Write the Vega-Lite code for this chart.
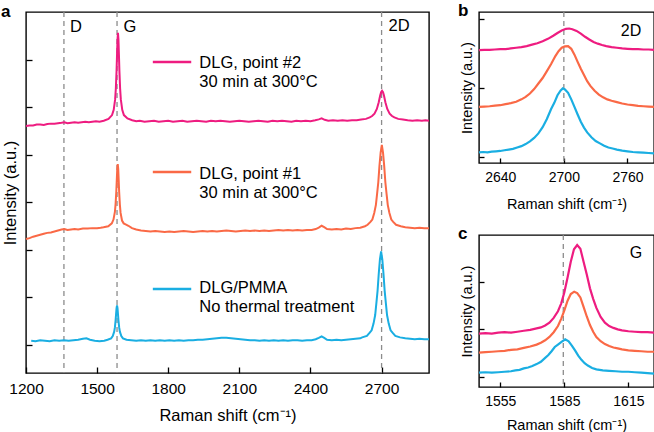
{
"$schema": "https://vega.github.io/schema/vega-lite/v6.json",
"padding": {"left": 0, "top": 1, "right": 1, "bottom": 0},
"config": {
 "font": "Liberation Sans",
 "view": {"stroke": "#000", "strokeWidth": 1.4},
 "axis": {"domain": false, "grid": false, "tickColor": "#000", "tickWidth": 1.3, "labelColor": "#000", "titleColor": "#000", "titleFontWeight": "normal", "labelFlush": false, "labelOverlap": false, "labelFont": "Liberation Sans", "titleFont": "Liberation Sans"},
 "title": {"font": "Liberation Sans", "fontWeight": "bold", "color": "#000", "anchor": "start", "frame": "group", "baseline": "alphabetic", "fontSize": 17}
},
"datasets": {
 "a": [
  {"x":1200,"y":4.61,"s":"p2"},{"x":1215,"y":4.62,"s":"p2"},{"x":1230,"y":4.62,"s":"p2"},{"x":1245,"y":4.64,"s":"p2"},{"x":1260,"y":4.64,"s":"p2"},{"x":1275,"y":4.63,"s":"p2"},{"x":1290,"y":4.65,"s":"p2"},{"x":1305,"y":4.66,"s":"p2"},{"x":1320,"y":4.66,"s":"p2"},{"x":1335,"y":4.67,"s":"p2"},{"x":1350,"y":4.68,"s":"p2"},{"x":1362,"y":4.69,"s":"p2"},{"x":1375,"y":4.67,"s":"p2"},{"x":1390,"y":4.68,"s":"p2"},{"x":1405,"y":4.69,"s":"p2"},{"x":1420,"y":4.68,"s":"p2"},{"x":1435,"y":4.69,"s":"p2"},{"x":1450,"y":4.70,"s":"p2"},{"x":1465,"y":4.69,"s":"p2"},{"x":1480,"y":4.70,"s":"p2"},{"x":1495,"y":4.71,"s":"p2"},{"x":1510,"y":4.70,"s":"p2"},{"x":1528,"y":4.72,"s":"p2"},{"x":1548,"y":4.76,"s":"p2"},{"x":1563,"y":4.84,"s":"p2"},{"x":1570,"y":4.95,"s":"p2"},{"x":1576,"y":5.17,"s":"p2"},{"x":1579,"y":5.40,"s":"p2"},{"x":1582,"y":5.77,"s":"p2"},{"x":1584,"y":6.11,"s":"p2"},{"x":1586,"y":6.43,"s":"p2"},{"x":1588,"y":6.57,"s":"p2"},{"x":1590,"y":6.43,"s":"p2"},{"x":1592,"y":6.11,"s":"p2"},{"x":1594,"y":5.77,"s":"p2"},{"x":1597,"y":5.40,"s":"p2"},{"x":1600,"y":5.17,"s":"p2"},{"x":1606,"y":4.95,"s":"p2"},{"x":1613,"y":4.84,"s":"p2"},{"x":1628,"y":4.77,"s":"p2"},{"x":1648,"y":4.73,"s":"p2"},{"x":1665,"y":4.71,"s":"p2"},{"x":1680,"y":4.72,"s":"p2"},{"x":1700,"y":4.70,"s":"p2"},{"x":1720,"y":4.71,"s":"p2"},{"x":1740,"y":4.72,"s":"p2"},{"x":1760,"y":4.70,"s":"p2"},{"x":1780,"y":4.71,"s":"p2"},{"x":1800,"y":4.72,"s":"p2"},{"x":1820,"y":4.70,"s":"p2"},{"x":1840,"y":4.71,"s":"p2"},{"x":1860,"y":4.72,"s":"p2"},{"x":1880,"y":4.70,"s":"p2"},{"x":1900,"y":4.71,"s":"p2"},{"x":1920,"y":4.72,"s":"p2"},{"x":1940,"y":4.71,"s":"p2"},{"x":1960,"y":4.70,"s":"p2"},{"x":1980,"y":4.72,"s":"p2"},{"x":2000,"y":4.71,"s":"p2"},{"x":2020,"y":4.72,"s":"p2"},{"x":2040,"y":4.71,"s":"p2"},{"x":2060,"y":4.70,"s":"p2"},{"x":2080,"y":4.71,"s":"p2"},{"x":2100,"y":4.72,"s":"p2"},{"x":2120,"y":4.71,"s":"p2"},{"x":2140,"y":4.70,"s":"p2"},{"x":2160,"y":4.71,"s":"p2"},{"x":2180,"y":4.72,"s":"p2"},{"x":2200,"y":4.71,"s":"p2"},{"x":2220,"y":4.70,"s":"p2"},{"x":2240,"y":4.72,"s":"p2"},{"x":2260,"y":4.71,"s":"p2"},{"x":2280,"y":4.72,"s":"p2"},{"x":2300,"y":4.71,"s":"p2"},{"x":2320,"y":4.70,"s":"p2"},{"x":2340,"y":4.72,"s":"p2"},{"x":2360,"y":4.71,"s":"p2"},{"x":2380,"y":4.72,"s":"p2"},{"x":2400,"y":4.71,"s":"p2"},{"x":2420,"y":4.73,"s":"p2"},{"x":2435,"y":4.75,"s":"p2"},{"x":2447,"y":4.77,"s":"p2"},{"x":2460,"y":4.74,"s":"p2"},{"x":2475,"y":4.72,"s":"p2"},{"x":2495,"y":4.73,"s":"p2"},{"x":2515,"y":4.72,"s":"p2"},{"x":2535,"y":4.73,"s":"p2"},{"x":2555,"y":4.72,"s":"p2"},{"x":2575,"y":4.73,"s":"p2"},{"x":2595,"y":4.73,"s":"p2"},{"x":2614,"y":4.745,"s":"p2"},{"x":2634,"y":4.76,"s":"p2"},{"x":2650,"y":4.79,"s":"p2"},{"x":2660,"y":4.82,"s":"p2"},{"x":2670,"y":4.87,"s":"p2"},{"x":2680,"y":4.97,"s":"p2"},{"x":2688,"y":5.11,"s":"p2"},{"x":2694,"y":5.25,"s":"p2"},{"x":2698,"y":5.32,"s":"p2"},{"x":2702,"y":5.35,"s":"p2"},{"x":2706,"y":5.32,"s":"p2"},{"x":2710,"y":5.25,"s":"p2"},{"x":2716,"y":5.11,"s":"p2"},{"x":2724,"y":4.97,"s":"p2"},{"x":2734,"y":4.87,"s":"p2"},{"x":2744,"y":4.82,"s":"p2"},{"x":2754,"y":4.79,"s":"p2"},{"x":2770,"y":4.76,"s":"p2"},{"x":2790,"y":4.745,"s":"p2"},{"x":2810,"y":4.73,"s":"p2"},{"x":2830,"y":4.72,"s":"p2"},{"x":2850,"y":4.73,"s":"p2"},{"x":2870,"y":4.72,"s":"p2"},{"x":2885,"y":4.73,"s":"p2"},{"x":2900,"y":4.72,"s":"p2"},

  {"x":1200,"y":2.23,"s":"p1"},{"x":1215,"y":2.25,"s":"p1"},{"x":1230,"y":2.28,"s":"p1"},{"x":1245,"y":2.30,"s":"p1"},{"x":1260,"y":2.32,"s":"p1"},{"x":1275,"y":2.34,"s":"p1"},{"x":1290,"y":2.36,"s":"p1"},{"x":1305,"y":2.37,"s":"p1"},{"x":1320,"y":2.39,"s":"p1"},{"x":1335,"y":2.41,"s":"p1"},{"x":1350,"y":2.43,"s":"p1"},{"x":1362,"y":2.44,"s":"p1"},{"x":1375,"y":2.42,"s":"p1"},{"x":1390,"y":2.43,"s":"p1"},{"x":1405,"y":2.44,"s":"p1"},{"x":1420,"y":2.43,"s":"p1"},{"x":1440,"y":2.45,"s":"p1"},{"x":1460,"y":2.45,"s":"p1"},{"x":1480,"y":2.46,"s":"p1"},{"x":1500,"y":2.46,"s":"p1"},{"x":1515,"y":2.47,"s":"p1"},{"x":1527,"y":2.48,"s":"p1"},{"x":1547,"y":2.50,"s":"p1"},{"x":1562,"y":2.56,"s":"p1"},{"x":1569,"y":2.64,"s":"p1"},{"x":1575,"y":2.80,"s":"p1"},{"x":1578,"y":2.97,"s":"p1"},{"x":1581,"y":3.24,"s":"p1"},{"x":1583,"y":3.48,"s":"p1"},{"x":1585,"y":3.71,"s":"p1"},{"x":1587,"y":3.81,"s":"p1"},{"x":1589,"y":3.71,"s":"p1"},{"x":1591,"y":3.47,"s":"p1"},{"x":1593,"y":3.22,"s":"p1"},{"x":1596,"y":2.95,"s":"p1"},{"x":1599,"y":2.78,"s":"p1"},{"x":1605,"y":2.62,"s":"p1"},{"x":1612,"y":2.56,"s":"p1"},{"x":1620,"y":2.54,"s":"p1"},{"x":1632,"y":2.51,"s":"p1"},{"x":1647,"y":2.46,"s":"p1"},{"x":1665,"y":2.43,"s":"p1"},{"x":1685,"y":2.41,"s":"p1"},{"x":1705,"y":2.40,"s":"p1"},{"x":1725,"y":2.39,"s":"p1"},{"x":1745,"y":2.40,"s":"p1"},{"x":1765,"y":2.39,"s":"p1"},{"x":1785,"y":2.38,"s":"p1"},{"x":1805,"y":2.39,"s":"p1"},{"x":1825,"y":2.38,"s":"p1"},{"x":1845,"y":2.39,"s":"p1"},{"x":1865,"y":2.40,"s":"p1"},{"x":1885,"y":2.39,"s":"p1"},{"x":1905,"y":2.38,"s":"p1"},{"x":1925,"y":2.39,"s":"p1"},{"x":1945,"y":2.40,"s":"p1"},{"x":1965,"y":2.39,"s":"p1"},{"x":1985,"y":2.40,"s":"p1"},{"x":2005,"y":2.39,"s":"p1"},{"x":2025,"y":2.40,"s":"p1"},{"x":2045,"y":2.41,"s":"p1"},{"x":2065,"y":2.40,"s":"p1"},{"x":2085,"y":2.39,"s":"p1"},{"x":2105,"y":2.40,"s":"p1"},{"x":2125,"y":2.41,"s":"p1"},{"x":2145,"y":2.40,"s":"p1"},{"x":2165,"y":2.41,"s":"p1"},{"x":2185,"y":2.40,"s":"p1"},{"x":2205,"y":2.41,"s":"p1"},{"x":2225,"y":2.40,"s":"p1"},{"x":2245,"y":2.41,"s":"p1"},{"x":2265,"y":2.42,"s":"p1"},{"x":2285,"y":2.41,"s":"p1"},{"x":2305,"y":2.42,"s":"p1"},{"x":2325,"y":2.41,"s":"p1"},{"x":2345,"y":2.42,"s":"p1"},{"x":2365,"y":2.41,"s":"p1"},{"x":2385,"y":2.42,"s":"p1"},{"x":2405,"y":2.42,"s":"p1"},{"x":2422,"y":2.44,"s":"p1"},{"x":2435,"y":2.47,"s":"p1"},{"x":2447,"y":2.51,"s":"p1"},{"x":2458,"y":2.48,"s":"p1"},{"x":2470,"y":2.44,"s":"p1"},{"x":2490,"y":2.43,"s":"p1"},{"x":2510,"y":2.44,"s":"p1"},{"x":2530,"y":2.43,"s":"p1"},{"x":2550,"y":2.45,"s":"p1"},{"x":2570,"y":2.44,"s":"p1"},{"x":2590,"y":2.46,"s":"p1"},{"x":2610,"y":2.47,"s":"p1"},{"x":2630,"y":2.50,"s":"p1"},{"x":2641,"y":2.53,"s":"p1"},{"x":2653,"y":2.59,"s":"p1"},{"x":2661,"y":2.64,"s":"p1"},{"x":2669,"y":2.78,"s":"p1"},{"x":2676,"y":2.95,"s":"p1"},{"x":2681,"y":3.18,"s":"p1"},{"x":2686,"y":3.42,"s":"p1"},{"x":2691,"y":3.77,"s":"p1"},{"x":2696,"y":4.05,"s":"p1"},{"x":2701,"y":4.21,"s":"p1"},{"x":2706,"y":4.05,"s":"p1"},{"x":2711,"y":3.77,"s":"p1"},{"x":2716,"y":3.42,"s":"p1"},{"x":2721,"y":3.18,"s":"p1"},{"x":2726,"y":2.95,"s":"p1"},{"x":2733,"y":2.78,"s":"p1"},{"x":2741,"y":2.64,"s":"p1"},{"x":2749,"y":2.59,"s":"p1"},{"x":2761,"y":2.53,"s":"p1"},{"x":2781,"y":2.50,"s":"p1"},{"x":2800,"y":2.48,"s":"p1"},{"x":2820,"y":2.47,"s":"p1"},{"x":2840,"y":2.46,"s":"p1"},{"x":2860,"y":2.47,"s":"p1"},{"x":2880,"y":2.46,"s":"p1"},{"x":2900,"y":2.46,"s":"p1"},

  {"x":1222,"y":0.09,"s":"pmma"},{"x":1240,"y":0.08,"s":"pmma"},{"x":1260,"y":0.10,"s":"pmma"},{"x":1280,"y":0.09,"s":"pmma"},{"x":1300,"y":0.08,"s":"pmma"},{"x":1320,"y":0.10,"s":"pmma"},{"x":1340,"y":0.09,"s":"pmma"},{"x":1360,"y":0.10,"s":"pmma"},{"x":1380,"y":0.09,"s":"pmma"},{"x":1400,"y":0.10,"s":"pmma"},{"x":1420,"y":0.11,"s":"pmma"},{"x":1440,"y":0.13,"s":"pmma"},{"x":1455,"y":0.14,"s":"pmma"},{"x":1470,"y":0.11,"s":"pmma"},{"x":1490,"y":0.09,"s":"pmma"},{"x":1510,"y":0.08,"s":"pmma"},{"x":1530,"y":0.09,"s":"pmma"},{"x":1544,"y":0.11,"s":"pmma"},{"x":1559,"y":0.14,"s":"pmma"},{"x":1566,"y":0.19,"s":"pmma"},{"x":1572,"y":0.28,"s":"pmma"},{"x":1575,"y":0.37,"s":"pmma"},{"x":1578,"y":0.52,"s":"pmma"},{"x":1580,"y":0.65,"s":"pmma"},{"x":1582,"y":0.775,"s":"pmma"},{"x":1584,"y":0.83,"s":"pmma"},{"x":1586,"y":0.775,"s":"pmma"},{"x":1588,"y":0.65,"s":"pmma"},{"x":1590,"y":0.52,"s":"pmma"},{"x":1593,"y":0.37,"s":"pmma"},{"x":1596,"y":0.28,"s":"pmma"},{"x":1602,"y":0.19,"s":"pmma"},{"x":1609,"y":0.14,"s":"pmma"},{"x":1624,"y":0.11,"s":"pmma"},{"x":1644,"y":0.10,"s":"pmma"},{"x":1665,"y":0.09,"s":"pmma"},{"x":1685,"y":0.10,"s":"pmma"},{"x":1705,"y":0.09,"s":"pmma"},{"x":1725,"y":0.10,"s":"pmma"},{"x":1745,"y":0.09,"s":"pmma"},{"x":1765,"y":0.10,"s":"pmma"},{"x":1785,"y":0.09,"s":"pmma"},{"x":1805,"y":0.10,"s":"pmma"},{"x":1825,"y":0.09,"s":"pmma"},{"x":1845,"y":0.10,"s":"pmma"},{"x":1865,"y":0.09,"s":"pmma"},{"x":1885,"y":0.10,"s":"pmma"},{"x":1905,"y":0.10,"s":"pmma"},{"x":1925,"y":0.11,"s":"pmma"},{"x":1945,"y":0.11,"s":"pmma"},{"x":1965,"y":0.12,"s":"pmma"},{"x":1985,"y":0.13,"s":"pmma"},{"x":2005,"y":0.14,"s":"pmma"},{"x":2025,"y":0.15,"s":"pmma"},{"x":2045,"y":0.15,"s":"pmma"},{"x":2065,"y":0.14,"s":"pmma"},{"x":2085,"y":0.13,"s":"pmma"},{"x":2105,"y":0.12,"s":"pmma"},{"x":2125,"y":0.11,"s":"pmma"},{"x":2145,"y":0.10,"s":"pmma"},{"x":2165,"y":0.10,"s":"pmma"},{"x":2185,"y":0.09,"s":"pmma"},{"x":2205,"y":0.10,"s":"pmma"},{"x":2225,"y":0.09,"s":"pmma"},{"x":2245,"y":0.10,"s":"pmma"},{"x":2265,"y":0.09,"s":"pmma"},{"x":2285,"y":0.10,"s":"pmma"},{"x":2305,"y":0.09,"s":"pmma"},{"x":2325,"y":0.10,"s":"pmma"},{"x":2345,"y":0.10,"s":"pmma"},{"x":2365,"y":0.09,"s":"pmma"},{"x":2385,"y":0.10,"s":"pmma"},{"x":2405,"y":0.10,"s":"pmma"},{"x":2422,"y":0.12,"s":"pmma"},{"x":2435,"y":0.15,"s":"pmma"},{"x":2447,"y":0.18,"s":"pmma"},{"x":2458,"y":0.15,"s":"pmma"},{"x":2470,"y":0.11,"s":"pmma"},{"x":2490,"y":0.10,"s":"pmma"},{"x":2510,"y":0.11,"s":"pmma"},{"x":2530,"y":0.10,"s":"pmma"},{"x":2550,"y":0.11,"s":"pmma"},{"x":2570,"y":0.12,"s":"pmma"},{"x":2590,"y":0.13,"s":"pmma"},{"x":2610,"y":0.14,"s":"pmma"},{"x":2618,"y":0.16,"s":"pmma"},{"x":2638,"y":0.19,"s":"pmma"},{"x":2650,"y":0.26,"s":"pmma"},{"x":2658,"y":0.31,"s":"pmma"},{"x":2666,"y":0.45,"s":"pmma"},{"x":2673,"y":0.63,"s":"pmma"},{"x":2678,"y":0.88,"s":"pmma"},{"x":2683,"y":1.14,"s":"pmma"},{"x":2688,"y":1.50,"s":"pmma"},{"x":2693,"y":1.80,"s":"pmma"},{"x":2698,"y":1.97,"s":"pmma"},{"x":2703,"y":1.80,"s":"pmma"},{"x":2708,"y":1.50,"s":"pmma"},{"x":2713,"y":1.14,"s":"pmma"},{"x":2718,"y":0.88,"s":"pmma"},{"x":2723,"y":0.63,"s":"pmma"},{"x":2730,"y":0.45,"s":"pmma"},{"x":2738,"y":0.31,"s":"pmma"},{"x":2746,"y":0.26,"s":"pmma"},{"x":2758,"y":0.19,"s":"pmma"},{"x":2778,"y":0.16,"s":"pmma"},{"x":2800,"y":0.14,"s":"pmma"},{"x":2820,"y":0.13,"s":"pmma"},{"x":2840,"y":0.12,"s":"pmma"},{"x":2860,"y":0.13,"s":"pmma"},{"x":2880,"y":0.12,"s":"pmma"},{"x":2900,"y":0.12,"s":"pmma"}
 ],
 "b": [
  {"x":2620,"y":3.10,"s":"p2"},{"x":2625,"y":3.11,"s":"p2"},{"x":2630,"y":3.11,"s":"p2"},{"x":2635,"y":3.12,"s":"p2"},{"x":2640,"y":3.13,"s":"p2"},{"x":2645,"y":3.13,"s":"p2"},{"x":2650,"y":3.15,"s":"p2"},{"x":2655,"y":3.17,"s":"p2"},{"x":2660,"y":3.19,"s":"p2"},{"x":2665,"y":3.22,"s":"p2"},{"x":2670,"y":3.26,"s":"p2"},{"x":2675,"y":3.30,"s":"p2"},{"x":2680,"y":3.36,"s":"p2"},{"x":2685,"y":3.43,"s":"p2"},{"x":2690,"y":3.52,"s":"p2"},{"x":2694,"y":3.60,"s":"p2"},{"x":2698,"y":3.67,"s":"p2"},{"x":2702,"y":3.72,"s":"p2"},{"x":2705,"y":3.73,"s":"p2"},{"x":2708,"y":3.71,"s":"p2"},{"x":2712,"y":3.66,"s":"p2"},{"x":2716,"y":3.58,"s":"p2"},{"x":2720,"y":3.49,"s":"p2"},{"x":2724,"y":3.41,"s":"p2"},{"x":2728,"y":3.34,"s":"p2"},{"x":2732,"y":3.29,"s":"p2"},{"x":2736,"y":3.25,"s":"p2"},{"x":2740,"y":3.22,"s":"p2"},{"x":2745,"y":3.19,"s":"p2"},{"x":2750,"y":3.17,"s":"p2"},{"x":2755,"y":3.15,"s":"p2"},{"x":2760,"y":3.14,"s":"p2"},{"x":2765,"y":3.13,"s":"p2"},{"x":2770,"y":3.13,"s":"p2"},{"x":2775,"y":3.12,"s":"p2"},{"x":2780,"y":3.12,"s":"p2"},{"x":2785,"y":3.11,"s":"p2"},
  {"x":2620,"y":1.45,"s":"p1"},{"x":2625,"y":1.46,"s":"p1"},{"x":2630,"y":1.47,"s":"p1"},{"x":2635,"y":1.49,"s":"p1"},{"x":2640,"y":1.50,"s":"p1"},{"x":2645,"y":1.53,"s":"p1"},{"x":2650,"y":1.56,"s":"p1"},{"x":2655,"y":1.60,"s":"p1"},{"x":2660,"y":1.67,"s":"p1"},{"x":2664,"y":1.74,"s":"p1"},{"x":2668,"y":1.84,"s":"p1"},{"x":2672,"y":1.97,"s":"p1"},{"x":2676,"y":2.13,"s":"p1"},{"x":2680,"y":2.29,"s":"p1"},{"x":2684,"y":2.49,"s":"p1"},{"x":2688,"y":2.70,"s":"p1"},{"x":2692,"y":2.93,"s":"p1"},{"x":2695,"y":3.07,"s":"p1"},{"x":2698,"y":3.17,"s":"p1"},{"x":2701,"y":3.21,"s":"p1"},{"x":2704,"y":3.22,"s":"p1"},{"x":2707,"y":3.14,"s":"p1"},{"x":2710,"y":2.97,"s":"p1"},{"x":2713,"y":2.76,"s":"p1"},{"x":2716,"y":2.56,"s":"p1"},{"x":2719,"y":2.38,"s":"p1"},{"x":2722,"y":2.20,"s":"p1"},{"x":2725,"y":2.06,"s":"p1"},{"x":2729,"y":1.92,"s":"p1"},{"x":2733,"y":1.81,"s":"p1"},{"x":2737,"y":1.73,"s":"p1"},{"x":2741,"y":1.67,"s":"p1"},{"x":2745,"y":1.63,"s":"p1"},{"x":2750,"y":1.59,"s":"p1"},{"x":2755,"y":1.55,"s":"p1"},{"x":2760,"y":1.52,"s":"p1"},{"x":2765,"y":1.50,"s":"p1"},{"x":2770,"y":1.48,"s":"p1"},{"x":2775,"y":1.47,"s":"p1"},{"x":2780,"y":1.46,"s":"p1"},{"x":2785,"y":1.45,"s":"p1"},
  {"x":2620,"y":0.13,"s":"pmma"},{"x":2624,"y":0.14,"s":"pmma"},{"x":2628,"y":0.13,"s":"pmma"},{"x":2632,"y":0.15,"s":"pmma"},{"x":2636,"y":0.16,"s":"pmma"},{"x":2640,"y":0.17,"s":"pmma"},{"x":2644,"y":0.19,"s":"pmma"},{"x":2648,"y":0.21,"s":"pmma"},{"x":2652,"y":0.23,"s":"pmma"},{"x":2656,"y":0.27,"s":"pmma"},{"x":2660,"y":0.31,"s":"pmma"},{"x":2664,"y":0.37,"s":"pmma"},{"x":2668,"y":0.45,"s":"pmma"},{"x":2672,"y":0.55,"s":"pmma"},{"x":2676,"y":0.68,"s":"pmma"},{"x":2680,"y":0.86,"s":"pmma"},{"x":2684,"y":1.10,"s":"pmma"},{"x":2688,"y":1.39,"s":"pmma"},{"x":2691,"y":1.57,"s":"pmma"},{"x":2694,"y":1.79,"s":"pmma"},{"x":2697,"y":1.93,"s":"pmma"},{"x":2699,"y":1.99,"s":"pmma"},{"x":2701,"y":1.96,"s":"pmma"},{"x":2704,"y":1.86,"s":"pmma"},{"x":2707,"y":1.67,"s":"pmma"},{"x":2710,"y":1.45,"s":"pmma"},{"x":2713,"y":1.23,"s":"pmma"},{"x":2716,"y":1.02,"s":"pmma"},{"x":2719,"y":0.85,"s":"pmma"},{"x":2722,"y":0.71,"s":"pmma"},{"x":2726,"y":0.57,"s":"pmma"},{"x":2730,"y":0.46,"s":"pmma"},{"x":2734,"y":0.39,"s":"pmma"},{"x":2738,"y":0.32,"s":"pmma"},{"x":2742,"y":0.27,"s":"pmma"},{"x":2746,"y":0.24,"s":"pmma"},{"x":2750,"y":0.21,"s":"pmma"},{"x":2755,"y":0.18,"s":"pmma"},{"x":2760,"y":0.16,"s":"pmma"},{"x":2765,"y":0.14,"s":"pmma"},{"x":2770,"y":0.13,"s":"pmma"},{"x":2775,"y":0.12,"s":"pmma"},{"x":2780,"y":0.11,"s":"pmma"},{"x":2785,"y":0.10,"s":"pmma"}
 ],
 "c": [
  {"x":1545,"y":0.91,"s":"p2"},{"x":1548,"y":0.92,"s":"p2"},{"x":1551,"y":0.91,"s":"p2"},{"x":1554,"y":0.93,"s":"p2"},{"x":1557,"y":0.94,"s":"p2"},{"x":1560,"y":0.93,"s":"p2"},{"x":1563,"y":0.95,"s":"p2"},{"x":1566,"y":0.97,"s":"p2"},{"x":1569,"y":0.99,"s":"p2"},{"x":1572,"y":1.02,"s":"p2"},{"x":1574,"y":1.04,"s":"p2"},{"x":1576,"y":1.08,"s":"p2"},{"x":1578,"y":1.14,"s":"p2"},{"x":1580,"y":1.24,"s":"p2"},{"x":1582,"y":1.38,"s":"p2"},{"x":1583.5,"y":1.54,"s":"p2"},{"x":1585,"y":1.78,"s":"p2"},{"x":1586.5,"y":2.09,"s":"p2"},{"x":1588,"y":2.42,"s":"p2"},{"x":1589.5,"y":2.68,"s":"p2"},{"x":1591,"y":2.77,"s":"p2"},{"x":1592.5,"y":2.69,"s":"p2"},{"x":1594,"y":2.42,"s":"p2"},{"x":1595.5,"y":2.15,"s":"p2"},{"x":1597,"y":1.86,"s":"p2"},{"x":1598.5,"y":1.64,"s":"p2"},{"x":1600,"y":1.45,"s":"p2"},{"x":1602,"y":1.26,"s":"p2"},{"x":1604,"y":1.14,"s":"p2"},{"x":1606,"y":1.07,"s":"p2"},{"x":1608,"y":1.03,"s":"p2"},{"x":1610,"y":1.00,"s":"p2"},{"x":1612,"y":0.98,"s":"p2"},{"x":1615,"y":0.96,"s":"p2"},{"x":1618,"y":0.95,"s":"p2"},{"x":1621,"y":0.94,"s":"p2"},{"x":1624,"y":0.94,"s":"p2"},{"x":1627,"y":0.93,"s":"p2"},
  {"x":1545,"y":0.51,"s":"p1"},{"x":1548,"y":0.52,"s":"p1"},{"x":1551,"y":0.53,"s":"p1"},{"x":1554,"y":0.54,"s":"p1"},{"x":1557,"y":0.55,"s":"p1"},{"x":1560,"y":0.57,"s":"p1"},{"x":1563,"y":0.58,"s":"p1"},{"x":1566,"y":0.61,"s":"p1"},{"x":1569,"y":0.64,"s":"p1"},{"x":1572,"y":0.68,"s":"p1"},{"x":1574,"y":0.72,"s":"p1"},{"x":1576,"y":0.77,"s":"p1"},{"x":1578,"y":0.84,"s":"p1"},{"x":1580,"y":0.94,"s":"p1"},{"x":1582,"y":1.07,"s":"p1"},{"x":1583.5,"y":1.22,"s":"p1"},{"x":1585,"y":1.40,"s":"p1"},{"x":1586.5,"y":1.60,"s":"p1"},{"x":1588,"y":1.74,"s":"p1"},{"x":1589.6,"y":1.79,"s":"p1"},{"x":1591,"y":1.76,"s":"p1"},{"x":1592.5,"y":1.67,"s":"p1"},{"x":1594,"y":1.47,"s":"p1"},{"x":1595.5,"y":1.27,"s":"p1"},{"x":1597,"y":1.09,"s":"p1"},{"x":1598.5,"y":0.95,"s":"p1"},{"x":1600,"y":0.84,"s":"p1"},{"x":1602,"y":0.75,"s":"p1"},{"x":1604,"y":0.69,"s":"p1"},{"x":1606,"y":0.65,"s":"p1"},{"x":1608,"y":0.62,"s":"p1"},{"x":1610,"y":0.60,"s":"p1"},{"x":1612,"y":0.58,"s":"p1"},{"x":1615,"y":0.56,"s":"p1"},{"x":1618,"y":0.55,"s":"p1"},{"x":1621,"y":0.54,"s":"p1"},{"x":1624,"y":0.53,"s":"p1"},{"x":1627,"y":0.53,"s":"p1"},
  {"x":1545,"y":0.09,"s":"pmma"},{"x":1548,"y":0.10,"s":"pmma"},{"x":1551,"y":0.09,"s":"pmma"},{"x":1554,"y":0.10,"s":"pmma"},{"x":1557,"y":0.11,"s":"pmma"},{"x":1560,"y":0.12,"s":"pmma"},{"x":1562,"y":0.14,"s":"pmma"},{"x":1564,"y":0.15,"s":"pmma"},{"x":1566,"y":0.18,"s":"pmma"},{"x":1568,"y":0.20,"s":"pmma"},{"x":1570,"y":0.23,"s":"pmma"},{"x":1572,"y":0.27,"s":"pmma"},{"x":1574,"y":0.32,"s":"pmma"},{"x":1576,"y":0.40,"s":"pmma"},{"x":1577.5,"y":0.46,"s":"pmma"},{"x":1579,"y":0.54,"s":"pmma"},{"x":1580.5,"y":0.63,"s":"pmma"},{"x":1582,"y":0.68,"s":"pmma"},{"x":1583.5,"y":0.73,"s":"pmma"},{"x":1585.4,"y":0.79,"s":"pmma"},{"x":1587,"y":0.75,"s":"pmma"},{"x":1588.5,"y":0.66,"s":"pmma"},{"x":1590,"y":0.56,"s":"pmma"},{"x":1591.5,"y":0.45,"s":"pmma"},{"x":1593,"y":0.36,"s":"pmma"},{"x":1594.5,"y":0.29,"s":"pmma"},{"x":1596,"y":0.24,"s":"pmma"},{"x":1598,"y":0.19,"s":"pmma"},{"x":1600,"y":0.16,"s":"pmma"},{"x":1603,"y":0.14,"s":"pmma"},{"x":1606,"y":0.13,"s":"pmma"},{"x":1609,"y":0.12,"s":"pmma"},{"x":1612,"y":0.11,"s":"pmma"},{"x":1615,"y":0.11,"s":"pmma"},{"x":1618,"y":0.10,"s":"pmma"},{"x":1621,"y":0.09,"s":"pmma"},{"x":1624,"y":0.08,"s":"pmma"},{"x":1627,"y":0.07,"s":"pmma"}
 ]
},
"bounds": "flush",
"spacing": 50,
"hconcat": [
 {
  "width": 403, "height": 361,
  "title": {"text": "a", "offset": -10, "dx": -25},
  "layer": [
   {"data": {"values": [{"x": 1360}, {"x": 1584}, {"x": 2700}]},
    "mark": {"type": "rule", "color": "#8c8c8c", "strokeDash": [5, 4], "strokeWidth": 1.3},
    "encoding": {"x": {"field": "x", "type": "quantitative", "scale": {"domain": [1200, 2900], "nice": false, "zero": false}, "axis": {"title": "Raman shift (cm⁻¹)"}}}},
   {"data": {"name": "a"},
    "mark": {"type": "line", "strokeWidth": 2},
    "encoding": {
     "x": {"field": "x", "type": "quantitative", "scale": {"domain": [1200, 2900], "nice": false, "zero": false},
       "axis": {"title": "Raman shift (cm⁻¹)", "values": [1200,1350,1500,1650,1800,1950,2100,2250,2400,2550,2700,2850], "labelExpr": "datum.value % 300 == 0 ? datum.label : ''", "format": "d", "tickSize": -6, "labelFontSize": 15.5, "labelPadding": 14, "titleFontSize": 16.5, "titlePadding": 11}},
     "y": {"field": "y", "type": "quantitative", "scale": {"domain": [-0.59, 7.01], "nice": false, "zero": false},
       "axis": {"title": "Intensity (a.u.)", "values": [0,1,2,3,4,5,6], "labels": false, "tickSize": -6, "titleFontSize": 16.5, "titlePadding": 7}},
     "color": {"field": "s", "type": "nominal", "scale": {"domain": ["p2", "p1", "pmma"], "range": ["#EE1C80", "#FA6946", "#1AAEE2"]}, "legend": null},
     "detail": {"field": "s"}
    }},
   {"data": {"values": [{"x": 1735, "x2": 1897, "y": 5.96, "s": "p2"}, {"x": 1735, "x2": 1897, "y": 3.64, "s": "p1"}, {"x": 1735, "x2": 1897, "y": 1.18, "s": "pmma"}]},
    "mark": {"type": "rule", "strokeWidth": 2.5},
    "encoding": {
     "x": {"field": "x", "type": "quantitative", "scale": {"domain": [1200, 2900], "nice": false, "zero": false}, "axis": {"title": "Raman shift (cm⁻¹)"}},
     "x2": {"field": "x2"},
     "y": {"field": "y", "type": "quantitative", "scale": {"domain": [-0.59, 7.01], "nice": false, "zero": false}, "axis": {"title": "Intensity (a.u.)"}},
     "color": {"field": "s", "type": "nominal", "scale": {"domain": ["p2", "p1", "pmma"], "range": ["#EE1C80", "#FA6946", "#1AAEE2"]}, "legend": null}
    }},
   {"data": {"values": [
     {"x": 1931, "y": 5.93, "t": "DLG, point #2"}, {"x": 1931, "y": 5.53, "t": "30 min at 300°C"},
     {"x": 1931, "y": 3.61, "t": "DLG, point #1"}, {"x": 1931, "y": 3.21, "t": "30 min at 300°C"},
     {"x": 1931, "y": 1.19, "t": "DLG/PMMA"}, {"x": 1931, "y": 0.79, "t": "No thermal treatment"},
     {"x": 1386, "y": 6.70, "t": "D"}, {"x": 1611, "y": 6.70, "t": "G"}, {"x": 2729, "y": 6.72, "t": "2D"}]},
    "mark": {"type": "text", "align": "left", "baseline": "middle", "fontSize": 16.5, "font": "Liberation Sans", "color": "#000"},
    "encoding": {
     "x": {"field": "x", "type": "quantitative", "scale": {"domain": [1200, 2900], "nice": false, "zero": false}, "axis": {"title": "Raman shift (cm⁻¹)"}},
     "y": {"field": "y", "type": "quantitative", "scale": {"domain": [-0.59, 7.01], "nice": false, "zero": false}, "axis": {"title": "Intensity (a.u.)"}},
     "text": {"field": "t"}
    }}
  ]
 },
 {
  "bounds": "flush",
  "spacing": 72,
  "vconcat": [
   {
    "width": 175, "height": 151,
    "title": {"text": "b", "offset": -9, "dx": -21},
    "layer": [
     {"data": {"values": [{"x": 2700}]},
      "mark": {"type": "rule", "color": "#8c8c8c", "strokeDash": [5, 4], "strokeWidth": 1.3},
      "encoding": {"x": {"field": "x", "type": "quantitative", "scale": {"domain": [2620, 2785], "nice": false, "zero": false}, "axis": {"title": "Raman shift (cm⁻¹)"}}}},
     {"data": {"name": "b"},
      "mark": {"type": "line", "strokeWidth": 2.2},
      "encoding": {
       "x": {"field": "x", "type": "quantitative", "scale": {"domain": [2620, 2785], "nice": false, "zero": false},
         "axis": {"title": "Raman shift (cm⁻¹)", "values": [2640, 2700, 2760], "format": "d", "tickSize": -5, "labelFontSize": 14, "labelPadding": 12.5, "titleFontSize": 14.5, "titlePadding": 13}},
       "y": {"field": "y", "type": "quantitative", "scale": {"domain": [-0.18, 4.21], "nice": false, "zero": false},
         "axis": {"title": "Intensity (a.u.)", "values": [0, 1, 2, 3, 4], "labels": false, "tickSize": -5, "titleFontSize": 14.5, "titlePadding": 4}},
       "color": {"field": "s", "type": "nominal", "scale": {"domain": ["p2", "p1", "pmma"], "range": ["#EE1C80", "#FA6946", "#1AAEE2"]}, "legend": null},
       "detail": {"field": "s"}
      }},
     {"data": {"values": [{"x": 2773, "y": 3.66, "t": "2D"}]},
      "mark": {"type": "text", "align": "right", "baseline": "middle", "fontSize": 16, "font": "Liberation Sans", "color": "#000"},
      "encoding": {
       "x": {"field": "x", "type": "quantitative", "scale": {"domain": [2620, 2785], "nice": false, "zero": false}, "axis": {"title": "Raman shift (cm⁻¹)"}},
       "y": {"field": "y", "type": "quantitative", "scale": {"domain": [-0.18, 4.21], "nice": false, "zero": false}, "axis": {"title": "Intensity (a.u.)"}},
       "text": {"field": "t"}
      }}
    ]
   },
   {
    "width": 175, "height": 152,
    "title": {"text": "c", "offset": -9, "dx": -21},
    "layer": [
     {"data": {"values": [{"x": 1584.5}]},
      "mark": {"type": "rule", "color": "#8c8c8c", "strokeDash": [5, 4], "strokeWidth": 1.3},
      "encoding": {"x": {"field": "x", "type": "quantitative", "scale": {"domain": [1545, 1627], "nice": false, "zero": false}, "axis": {"title": "Raman shift (cm⁻¹)"}}}},
     {"data": {"name": "c"},
      "mark": {"type": "line", "strokeWidth": 2.2},
      "encoding": {
       "x": {"field": "x", "type": "quantitative", "scale": {"domain": [1545, 1627], "nice": false, "zero": false},
         "axis": {"title": "Raman shift (cm⁻¹)", "values": [1555, 1585, 1615], "format": "d", "tickSize": -5, "labelFontSize": 14, "labelPadding": 12.5, "titleFontSize": 14.5, "titlePadding": 10}},
       "y": {"field": "y", "type": "quantitative", "scale": {"domain": [-0.21, 2.98], "nice": false, "zero": false},
         "axis": {"title": "Intensity (a.u.)", "values": [0, 1, 2], "labels": false, "tickSize": -5, "titleFontSize": 14.5, "titlePadding": 4}},
       "color": {"field": "s", "type": "nominal", "scale": {"domain": ["p2", "p1", "pmma"], "range": ["#EE1C80", "#FA6946", "#1AAEE2"]}, "legend": null},
       "detail": {"field": "s"}
      }},
     {"data": {"values": [{"x": 1621.5, "y": 2.61, "t": "G"}]},
      "mark": {"type": "text", "align": "right", "baseline": "middle", "fontSize": 16, "font": "Liberation Sans", "color": "#000"},
      "encoding": {
       "x": {"field": "x", "type": "quantitative", "scale": {"domain": [1545, 1627], "nice": false, "zero": false}, "axis": {"title": "Raman shift (cm⁻¹)"}},
       "y": {"field": "y", "type": "quantitative", "scale": {"domain": [-0.21, 2.98], "nice": false, "zero": false}, "axis": {"title": "Intensity (a.u.)"}},
       "text": {"field": "t"}
      }}
    ]
   }
  ]
 }
]
}
